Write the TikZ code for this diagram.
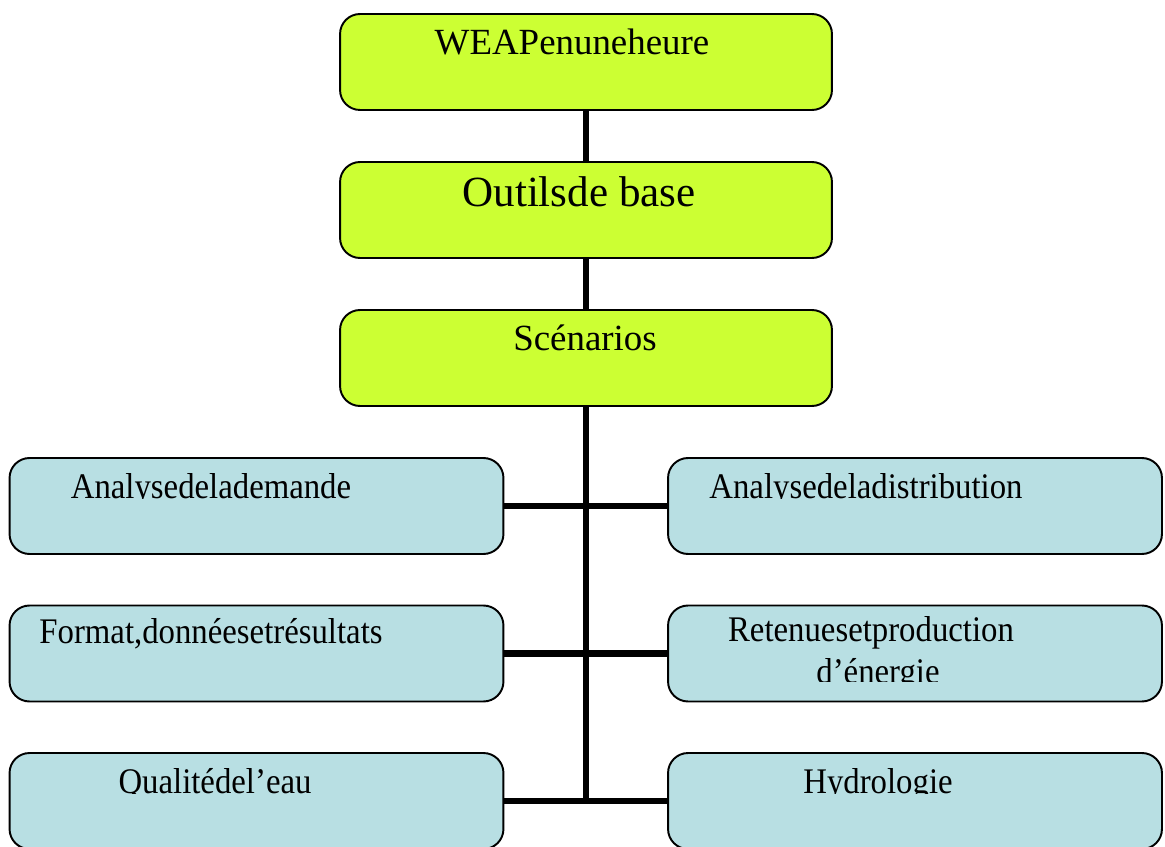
\documentclass[tikz,border=0pt]{standalone}
\usepackage{fontspec}
\setmainfont{Liberation Serif}
\newfontfamily\narrowserif[FakeStretch=0.91]{Liberation Serif}
\usepackage{xcolor}
\usetikzlibrary{positioning}
\definecolor{limebox}{HTML}{CCFF33}
\definecolor{aquabox}{HTML}{B8DFE3}
\begin{document}
\begin{tikzpicture}[
  x=0.02cm, y=-0.02cm,
  greenbox/.style={rectangle, rounded corners=0.4cm, draw, line width=1.1pt, fill=limebox, minimum width=9.84cm, minimum height=1.92cm, inner sep=0pt, outer sep=0pt},
  bluebox/.style={greenbox, fill=aquabox, minimum width=9.88cm},
  lbl/.style={anchor=base, inner sep=0pt, font=\fontsize{21}{25}\selectfont},
  bluelbl/.style={lbl, font=\narrowserif\fontsize{20.5}{24}\selectfont},
  link/.style={line width=3.5pt}
]
\useasboundingbox (0,0) rectangle (1165,847);
% boxes
\node[greenbox] (weap) at (586,62) {};
\node[greenbox] (outils) at (586,210) {};
\node[greenbox] (scen) at (586,358) {};
\node[bluebox] (demande) at (256.5,506) {};
\node[bluebox] (distrib) at (915,506) {};
\node[bluebox] (format) at (256.5,653.5) {};
\node[bluebox] (retenue) at (915,653.5) {};
\node[bluebox] (qualite) at (256.5,801) {};
\node[bluebox] (hydro) at (915,801) {};
\coordinate (hub) at (586,800);

% links
\draw[link] (weap) -- (outils);
\draw[link] (outils) -- (scen);
\draw[link] (scen) -- (hub);
\draw[link] (demande) -- (distrib);
\draw[link] (format) -- (retenue);
\draw[link] (qualite) -- (hydro);

% labels
\node[lbl] (weap-t) at (572,55) {WEAPenuneheure};
\node[lbl, font=\fontsize{24.5}{29}\selectfont] (outils-t) at (579,207) {Outilsde base};
\node[lbl] (scen-t) at (585,351) {Scénarios};
\begin{scope}
  \clip (0,440) rectangle (1165,498);
  \node[bluelbl] (demande-t) at (211,498) {Analysedelademande};
  \node[bluelbl] (distrib-t) at (866,498) {Analysedeladistribution};
\end{scope}
\node[bluelbl] (format-t) at (211,643) {Format,donnéesetrésultats};
\node[bluelbl] (retenue-t) at (871,641) {Retenuesetproduction};
\begin{scope}
  \clip (668,650) rectangle (1165,681);
  \node[bluelbl] (energie-t) at (878,683) {d’énergie};
\end{scope}
\begin{scope}
  \clip (0,740) rectangle (1165,793);
  \node[bluelbl] (qualite-t) at (215,793) {Qualitédel’eau};
  \node[bluelbl] (hydro-t) at (878,793) {Hydrologie};
\end{scope}
\end{tikzpicture}
\end{document}
